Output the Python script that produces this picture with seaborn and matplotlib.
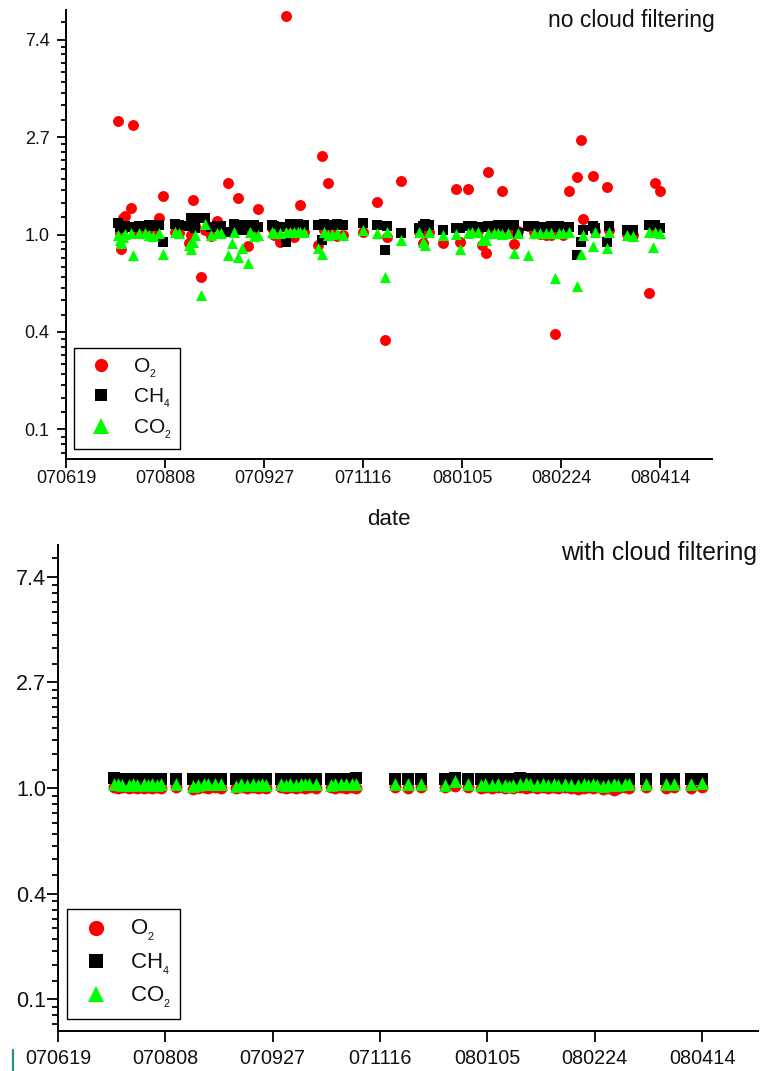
import numpy as np
import pandas as pd
import matplotlib
matplotlib.use("Agg")
import matplotlib.pyplot as plt
import seaborn as sns
from matplotlib.ticker import FixedLocator, NullLocator, NullFormatter
from matplotlib.lines import Line2D

sns.set_style("ticks")
plt.rcParams['font.family'] = ['Liberation Sans', 'DejaVu Sans']
plt.rcParams['mathtext.fontset'] = 'custom'
plt.rcParams['mathtext.rm'] = 'Liberation Sans'
plt.rcParams['mathtext.it'] = 'Liberation Sans:italic'

# ---------------- data: no cloud filtering ----------------
dates_all = ["070715", "070716", "070717", "070718", "070719", "070722", "070723", "070726",
             "070729", "070731", "070802", "070805", "070807", "070813", "070815", "070820",
             "070821", "070822", "070823", "070826", "070828", "070831", "070903", "070905",
             "070909", "070911", "070912", "070914", "070916", "070919", "070920", "070922",
             "070924", "071001", "071002", "071005", "071008", "071010", "071012", "071014",
             "071015", "071017", "071024", "071026", "071027", "071029", "071031", "071103",
             "071106", "071116", "071123", "071127", "071128", "071205", "071214", "071216",
             "071217", "071219", "071226", "080102", "080104", "080108", "080110", "080113",
             "080115", "080117", "080118", "080121", "080123", "080125", "080128", "080131",
             "080202", "080207", "080210", "080213", "080216", "080219", "080221", "080223",
             "080225", "080228", "080303", "080305", "080306", "080311", "080312", "080318",
             "080319", "080328", "080331", "080408", "080410", "080411", "080414"]
o2_all = [3.21, 1.02, 0.86, 1.19, 1.21, 1.31, 3.09, 1.02,
          1.03, 1.01, 1.03, 1.18, 1.48, 1.03, 1.02, 0.92,
          1.00, 1.43, 1.09, 0.65, 1.05, 0.98, 1.15, 1.03,
          1.70, 1.05, 1.04, 1.45, 1.09, 0.89, 1.04, 1.03,
          1.30, 1.07, 1.00, 0.93, 9.37, 1.03, 0.97, 1.03,
          1.36, 1.03, 0.90, 2.24, 1.05, 1.69, 1.05, 0.98,
          1.00, 1.03, 1.40, 0.34, 0.97, 1.73, 1.03, 0.92,
          1.02, 1.03, 0.92, 1.60, 0.93, 1.60, 1.07, 1.04,
          0.90, 0.83, 1.89, 1.03, 1.05, 1.56, 1.03, 0.91,
          1.04, 1.09, 1.03, 1.01, 0.99, 1.00, 0.36, 1.02,
          1.00, 1.57, 1.80, 2.64, 1.17, 1.83, 1.04, 1.63,
          1.05, 1.01, 0.99, 0.55, 1.07, 1.70, 1.57]
ch4_all = [1.13, 1.08, 1.09, 1.07, 1.09, 1.08, 1.08, 1.09,
           1.09, 1.10, 1.09, 1.10, 0.93, 1.11, 1.10, 1.09,
           1.18, 1.10, 1.07, 1.19, 1.19, 1.08, 1.09, 1.09,
           1.03, 1.03, 1.11, 1.10, 1.05, 1.10, 1.09, 1.10,
           1.08, 1.10, 1.09, 1.08, 0.93, 1.11, 1.11, 1.11,
           1.10, 1.10, 1.10, 0.95, 1.11, 1.10, 1.10, 1.11,
           1.10, 1.12, 1.10, 0.85, 1.09, 1.02, 1.07, 1.09,
           1.11, 1.10, 1.05, 1.07, 1.07, 1.09, 1.09, 1.08,
           1.08, 1.08, 1.09, 1.09, 1.10, 1.08, 1.10, 1.10,
           1.02, 1.09, 1.09, 1.08, 1.08, 1.09, 1.08, 1.09,
           1.08, 1.08, 0.81, 0.93, 1.05, 1.09, 1.07, 0.93,
           1.09, 1.05, 1.05, 1.10, 1.10, 1.10, 1.07]
co2_all = [1.00, 0.95, 0.92, 0.97, 1.01, 1.02, 0.81, 1.02,
           1.02, 0.99, 0.98, 1.02, 0.82, 1.03, 1.02, 0.90,
           0.86, 0.93, 1.00, 0.54, 1.11, 1.00, 1.02, 1.02,
           0.81, 0.92, 1.03, 0.79, 0.87, 0.75, 1.03, 0.98,
           1.00, 1.03, 1.02, 1.02, 1.03, 1.03, 1.03, 1.03,
           1.03, 1.03, 0.87, 0.82, 1.03, 1.00, 1.01, 1.02,
           1.00, 1.05, 1.02, 0.65, 1.03, 0.95, 1.03, 0.93,
           0.90, 1.03, 1.00, 1.01, 0.86, 1.02, 1.03, 1.03,
           0.95, 0.95, 1.02, 1.02, 1.02, 1.01, 1.02, 0.83,
           1.02, 0.81, 1.02, 1.02, 1.02, 1.02, 0.64, 1.02,
           1.02, 1.03, 0.59, 0.82, 1.00, 0.89, 1.03, 0.87,
           1.03, 1.00, 0.98, 1.03, 0.88, 1.03, 1.02]

# ---------------- data: with cloud filtering ----------------
dates_cf = ["070715", "070717", "070719", "070722", "070724", "070726", "070729", "070731",
            "070802", "070804", "070806", "070813", "070821", "070823", "070826", "070828",
            "070831", "070903", "070910", "070912", "070915", "070918", "070920", "070922",
            "070924", "071001", "071003", "071005", "071008", "071010", "071012", "071014",
            "071017", "071024", "071026", "071029", "071031", "071103", "071105", "071123",
            "071129", "071205", "071216", "071221", "071227", "080102", "080104", "080107",
            "080110", "080113", "080115", "080117", "080120", "080123", "080125", "080128",
            "080131", "080202", "080205", "080207", "080210", "080213", "080216", "080219",
            "080221", "080223", "080225", "080228", "080301", "080304", "080306", "080309",
            "080311", "080319", "080328", "080401", "080409", "080414"]
o2_cf = [1.01, 1.00, 1.01, 1.00, 1.01, 1.00, 1.00, 1.01,
         1.00, 1.01, 1.00, 1.01, 0.99, 1.00, 1.01, 1.00,
         1.01, 1.00, 1.00, 1.01, 1.00, 1.01, 1.00, 1.01,
         1.00, 1.01, 1.00, 1.01, 1.00, 1.01, 1.00, 1.01,
         1.00, 1.01, 1.00, 1.01, 1.00, 1.01, 1.00, 1.01,
         1.00, 1.01, 1.01, 1.02, 1.01, 1.00, 1.01, 1.00,
         1.01, 1.00, 1.01, 1.00, 1.01, 1.00, 1.01, 1.00,
         1.01, 1.00, 1.01, 1.00, 1.01, 1.00, 0.99, 1.00,
         1.01, 1.00, 1.01, 0.99, 1.00, 0.98, 1.00, 1.01,
         1.00, 1.01, 1.00, 1.01, 1.00, 1.01]
ch4_cf = [1.10, 1.09, 1.09, 1.09, 1.09, 1.09, 1.09, 1.09,
          1.09, 1.09, 1.09, 1.09, 1.09, 1.08, 1.09, 1.09,
          1.09, 1.09, 1.09, 1.09, 1.09, 1.09, 1.09, 1.09,
          1.09, 1.09, 1.09, 1.09, 1.09, 1.09, 1.09, 1.09,
          1.09, 1.09, 1.09, 1.09, 1.09, 1.09, 1.10, 1.09,
          1.09, 1.09, 1.09, 1.10, 1.09, 1.09, 1.09, 1.09,
          1.09, 1.09, 1.09, 1.09, 1.10, 1.09, 1.09, 1.09,
          1.09, 1.09, 1.09, 1.09, 1.09, 1.09, 1.09, 1.09,
          1.09, 1.09, 1.09, 1.09, 1.09, 1.09, 1.09, 1.09,
          1.09, 1.09, 1.09, 1.09, 1.09, 1.09]
co2_cf = [1.04, 1.04, 1.03, 1.03, 1.04, 1.03, 1.04, 1.03,
          1.04, 1.03, 1.04, 1.04, 1.02, 1.03, 1.04, 1.04,
          1.04, 1.04, 1.02, 1.04, 1.03, 1.04, 1.03, 1.04,
          1.03, 1.04, 1.03, 1.04, 1.03, 1.04, 1.04, 1.04,
          1.04, 1.03, 1.04, 1.04, 1.04, 1.04, 1.04, 1.04,
          1.04, 1.04, 1.03, 1.07, 1.04, 1.03, 1.04, 1.03,
          1.04, 1.03, 1.02, 1.03, 1.04, 1.05, 1.04, 1.03,
          1.04, 1.03, 1.04, 1.03, 1.04, 1.03, 1.03, 1.04,
          1.03, 1.04, 1.03, 1.02, 1.03, 1.04, 1.03, 1.04,
          1.04, 1.04, 1.04, 1.04, 1.04, 1.05]

gases = ["O2", "CH4", "CO2"]
gas_labels = [r"$\mathregular{O_{{}_{2}}}$", r"$\mathregular{CH_{{}_{4}}}$",
              r"$\mathregular{CO_{{}_{2}}}$"]
gas_colors = {"O2": "#ff0000", "CH4": "#000000", "CO2": "#00ff00"}
gas_markers = {"O2": "o", "CH4": "s", "CO2": "^"}

xtick_labels = ["070619", "070808", "070927", "071116", "080105", "080224", "080414"]
ytick_labels = ["0.1", "0.4", "1.0", "2.7", "7.4"]
x_start, x_end = "070619", "080510"


def long_frame(dates, o2, ch4, co2):
    d = pd.to_datetime(dates, format="%y%m%d")
    parts = []
    for g, v in zip(gases, [o2, ch4, co2]):
        parts.append(pd.DataFrame({"date": d, "ratio": v, "gas": g}))
    return pd.concat(parts, ignore_index=True)


df_all = long_frame(dates_all, o2_all, ch4_all, co2_all)
df_cf = long_frame(dates_cf, o2_cf, ch4_cf, co2_cf)

W, H = 760, 1071
fig = plt.figure(figsize=(W / 100, H / 100), dpi=100)
ax1 = fig.add_axes([66 / W, 1 - 459 / H, 646 / W, 449 / H])
ax2 = fig.add_axes([58 / W, 1 - 1031 / H, 700 / W, 486 / H])

# major/minor tick positions on the natural-log axis
ymaj = [np.exp(n) for n in range(-2, 3)]
ymin = []
for n in range(-3, 3):
    lo, hi = np.exp(n), np.exp(n + 1)
    for k in range(1, 9):
        ymin.append(lo + k * (hi - lo) / 9)


def style_axis(ax, df, sizes, tick_fs, ytick_fs, xpad, ypad, majlen, minlen):
    for g in gases:
        sub = df[df["gas"] == g]
        sns.scatterplot(data=sub, x="date", y="ratio", ax=ax, color=gas_colors[g],
                        marker=gas_markers[g], s=sizes[g], linewidth=0, legend=False,
                        zorder=3)
    ax.set_yscale("log", base=np.e)
    ax.set_ylim(0.1, 10)
    ax.set_yticks(ymaj)
    ax.set_yticklabels(ytick_labels)
    ax.yaxis.set_minor_locator(FixedLocator(ymin))
    ax.yaxis.set_minor_formatter(NullFormatter())
    xt = pd.to_datetime(xtick_labels, format="%y%m%d")
    ax.set_xticks(xt)
    ax.set_xticklabels(xtick_labels)
    ax.xaxis.set_minor_locator(NullLocator())
    ax.set_xlim(pd.to_datetime(x_start, format="%y%m%d"), pd.to_datetime(x_end, format="%y%m%d"))
    ax.set_xlabel("")
    ax.set_ylabel("")
    for s in ["top", "right"]:
        ax.spines[s].set_visible(False)
    for s in ["left", "bottom"]:
        ax.spines[s].set_linewidth(1.4)
        ax.spines[s].set_color("black")
    ax.tick_params(axis="both", which="major", direction="out", length=majlen, width=1.3,
                   color="black", labelcolor="#111111")
    ax.tick_params(axis="x", which="major", labelsize=tick_fs, pad=xpad)
    ax.tick_params(axis="y", which="major", labelsize=ytick_fs, pad=ypad)
    ax.tick_params(axis="y", which="minor", direction="out", length=minlen, width=1.3,
                   color="black")
    ax.set_facecolor("white")


style_axis(ax1, df_all, {"O2": 62, "CH4": 50, "CO2": 64}, 13, 13, 1.5, 5.3, 6.5, 3.5)
style_axis(ax2, df_cf, {"O2": 72, "CH4": 66, "CO2": 84}, 14.3, 15.5, 5.0, 1.0, 7.7, 4.0)


def add_legend(ax, fs, msizes, anchor, borderpad, handlelength, htp, labelspacing):
    handles = [Line2D([], [], ls="none", marker=gas_markers[g], color=gas_colors[g],
                      markersize=msizes[i], markeredgewidth=0)
               for i, g in enumerate(gases)]
    leg = ax.legend(handles, gas_labels, loc="lower left", bbox_to_anchor=anchor,
                    borderaxespad=0, frameon=True, fancybox=False, framealpha=1,
                    edgecolor="black", fontsize=fs, borderpad=borderpad,
                    handlelength=handlelength, handletextpad=htp,
                    labelspacing=labelspacing)
    leg.get_frame().set_linewidth(1.0)
    for t in leg.get_texts():
        t.set_color("#111111")
    return leg


add_legend(ax1, 15, [9.5, 8.5, 11], (8 / 646, 10 / 449), 0.4, 1.8, 0.64, 0.33)
add_legend(ax2, 16, [11, 9.5, 12], (9 / 700, 12 / 486), 0.4, 1.8, 0.64, 0.37)

fig.text(715 / W, 1 - 20 / H, "no cloud filtering", ha="right", va="center",
         fontsize=16.5, color="#111111")
fig.text(757 / W, 1 - 553 / H, "with cloud filtering", ha="right", va="center",
         fontsize=17.8, color="#111111")
fig.text(389 / W, 1 - 519 / H, "date", ha="center", va="center", fontsize=16,
         color="#111111")
fig.add_artist(Line2D([12.5 / W, 12.5 / W], [0, 21 / H], color="#2a8c8c", lw=1.6))

fig.savefig("out.png", dpi=100, facecolor="white")
